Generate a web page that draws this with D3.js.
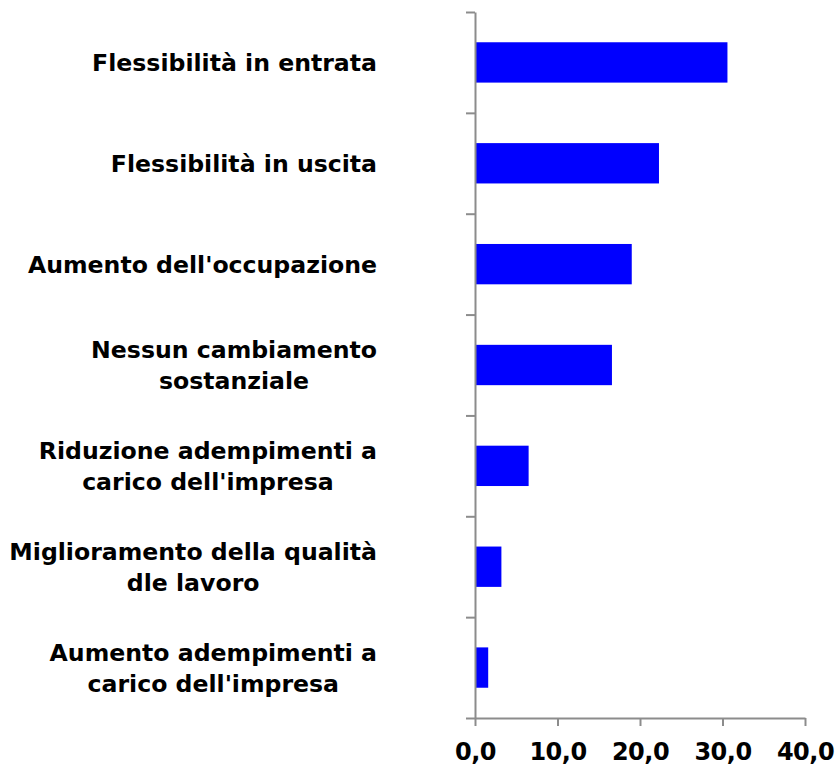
<!DOCTYPE html>
<html>
<head>
<meta charset="utf-8">
<script src="https://cdn.jsdelivr.net/npm/d3@7"></script>
<style>
  body { margin: 0; background: #fff; }
  text { font-family: "DejaVu Sans", Verdana, sans-serif; font-weight: bold; fill: #000; }
</style>
</head>
<body>
<svg id="chart" width="836" height="767"></svg>
<script>
// categories top to bottom, each label split in lines
const categories = [
    ["Flessibilità in entrata"],
    ["Flessibilità in uscita"],
    ["Aumento dell'occupazione"],
    ["Nessun cambiamento", "sostanziale"],
    ["Riduzione adempimenti a", "carico dell'impresa"],
    ["Miglioramento della qualità", "dle lavoro"],
    ["Aumento adempimenti a", "carico dell'impresa"]
];
const values = [30.6, 22.3, 19.0, 16.6, 6.5, 3.2, 1.6];
const xTicks = [0, 10, 20, 30, 40];

const plotLeft = 475, plotRight = 805, plotTop = 12, plotBottom = 718;
const labelRight = 377;
const axisColor = "#8c8c8c";

const svg = d3.select("#chart");

const x = d3.scaleLinear()
            .domain([0, 40])
            .range([plotLeft, plotRight]);

const y = d3.scaleBand()
            .domain(d3.range(categories.length))
            .range([plotTop, plotBottom])
            .paddingInner(0.6)
            .paddingOuter(0.3);

const locale = d3.formatLocale({decimal: ",", thousands: ".", grouping: [3], currency: ["", "€"]});

// bars
svg.append("g")
    .selectAll("rect")
    .data(values)
    .join("rect")
    .attr("x", x(0))
    .attr("y", (d, i) => y(i))
    .attr("width", d => x(d) - x(0))
    .attr("height", y.bandwidth())
    .attr("fill", "#0000ff");

// left axis, ticks between categories
const yLine = d3.scaleLinear()
                .domain([0, categories.length])
                .range([plotTop, plotBottom]);

const leftAxis = svg.append("g")
    .attr("transform", `translate(${plotLeft},0)`)
    .call(d3.axisLeft(yLine)
        .tickValues(d3.range(categories.length + 1))
        .tickSize(9)
        .tickSizeOuter(0)
        .tickFormat(""));

// bottom axis
const bottomAxis = svg.append("g")
    .attr("transform", `translate(0,${plotBottom})`)
    .call(d3.axisBottom(x)
        .tickValues(xTicks)
        .tickSize(8)
        .tickSizeOuter(0)
        .tickPadding(17)
        .tickFormat(locale.format(".1f")));

bottomAxis.selectAll("text")
    .attr("font-size", 24)
    .attr("letter-spacing", -0.5)
    .attr("dy", "0.71em");

[leftAxis, bottomAxis].forEach(g => {
    g.selectAll("path, line")
        .attr("stroke", axisColor)
        .attr("stroke-width", 2);
});

// category labels, centred block, right aligned
const lineH = 31;
const labels = svg.append("g")
    .selectAll("text")
    .data(categories)
    .join("text")
    .attr("font-size", 23.6)
    .attr("text-anchor", "middle");

labels.each(function(lines, i) {
    const t = d3.select(this);
    const cy = y(i) + y.bandwidth() / 2;
    const y0 = cy - (lines.length - 1) * lineH / 2;
    lines.forEach((s, k) => {
        t.append("tspan")
            .attr("y", y0 + k * lineH)
            .attr("dy", "0.36em")
            .text(s);
    });
    let w = 0;
    t.selectAll("tspan").each(function() { w = Math.max(w, this.getComputedTextLength()); });
    t.selectAll("tspan").attr("x", labelRight - w / 2);
});
</script>
</body>
</html>
